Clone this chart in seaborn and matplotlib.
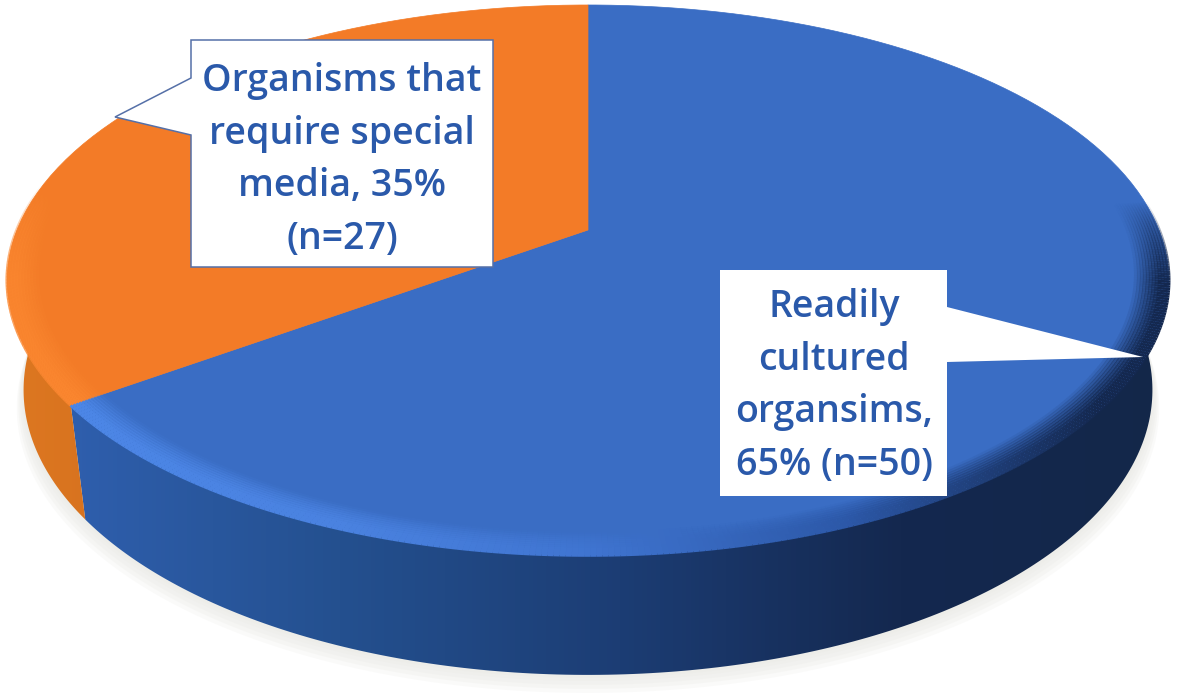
import matplotlib
matplotlib.use('Agg')
import matplotlib.pyplot as plt
from matplotlib.collections import LineCollection
from matplotlib.patches import Polygon
from matplotlib.transforms import Affine2D
import numpy as np
import seaborn as sns

# Data
categories = ['Readily cultured organisms', 'Organisms that require special media']
shares = [65, 35]
counts = [50, 27]
label_lines = ['Readily\ncultured\norgansims,\n65% (n=50)',
               'Organisms that\nrequire special\nmedia, 35%\n(n=27)']

# Colours
top_colors = ['#3a6dc4', '#f37b27']
side_maps = [sns.blend_palette(['#2f5fae', '#24508f', '#1c3d74', '#14284f', '#132749'], as_cmap=True),
             sns.blend_palette(['#de7821', '#d8731f'], as_cmap=True)]
bevel_maps = [sns.blend_palette(['#4c86e6', '#4a82e0', '#3f74d0', '#2c58a8', '#14284f'], as_cmap=True),
              sns.blend_palette(['#fb8730', '#fb8730'], as_cmap=True)]
text_color = '#2a59aa'


# The pie is drawn on a unit circle and then tilted into picture pixels
def tilt(x, y):
    w = 1 + 0.1818 * y
    return 588 + 571 * x / w, (230 - 224.1 * y) / w


def lower(px, py):
    return 588 + (px - 588) * 0.972, 390 + (py - 280) * 1.036


sns.set_theme(style='white')
plt.rcParams['font.family'] = ['Open Sans', 'DejaVu Sans']

fig = plt.figure(figsize=(11.81, 6.99), dpi=100)
ax = fig.add_axes([0, 0, 1, 1])
wedges, _ = ax.pie(shares, startangle=90, counterclock=False, colors=top_colors, radius=1)

faces = []
arcs = []
for wedge in wedges:
    poly = wedge.get_path().to_polygons(transform=Affine2D().scale(1000))[0] / 1000
    faces.append(np.column_stack(tilt(poly[:, 0], poly[:, 1])))
    arcs.append((wedge.theta1, wedge.theta2))
    wedge.remove()

ax.set_aspect('auto')

# Soft shadow below the disc
t = np.deg2rad(np.linspace(0, 360, 361))
bx, by = lower(*tilt(np.cos(t), np.sin(t)))
for grow, alpha in zip([18, 14, 10, 6, 3], [0.25, 0.3, 0.35, 0.4, 0.5]):
    ax.add_patch(Polygon(np.column_stack([588 + (bx - 588) * (1 + grow / 1500), by + grow]),
                         closed=True, fc='#ecece8', ec='none', alpha=alpha, zorder=1))

# Side walls
wall_range = [(arcs[0][0], 0), (-180, arcs[1][1])]
wall_extent = [(60, 1181, 699, 0), (0, 90, 699, 0)]
for i, (low, high) in enumerate(wall_range):
    t = np.deg2rad(np.linspace(low, high, 200))
    tx, ty = tilt(np.cos(t), np.sin(t))
    lx, ly = lower(tx, ty)
    wall = Polygon(np.column_stack([np.r_[tx, lx[::-1]], np.r_[ty, ly[::-1]]]), closed=True,
                   fc='none', ec='none', zorder=2)
    ax.add_patch(wall)
    im = ax.imshow(np.linspace(0, 1, 256)[None, :], extent=wall_extent[i], cmap=side_maps[i],
                   aspect='auto', zorder=2)
    im.set_clip_path(wall)

# Top faces
for i, face in enumerate(faces):
    ax.add_patch(Polygon(face, closed=True, fc=top_colors[i], ec=top_colors[i], lw=0.5, zorder=3))

# Bevel along the front edge, built from thin strips that get stronger towards the rim
bevel_range = [(arcs[0][0], 6), (-190, arcs[1][1])]
for i, (low, high) in enumerate(bevel_range):
    t = np.deg2rad(np.linspace(low, high, 300))
    for r, alpha in zip(np.linspace(0.945, 1.0, 12), np.r_[np.linspace(0.1, 1, 9), 1, 1, 1]):
        sx, sy = tilt(r * np.cos(t), r * np.sin(t))
        pts = np.column_stack([sx, sy]).reshape(-1, 1, 2)
        segs = np.concatenate([pts[:-1], pts[1:]], axis=1)
        if i == 0:
            fade = np.clip((t[-1] - t[:-1]) / 0.3, 0, 1)
        else:
            fade = np.clip((t[:-1] - t[0]) / 0.35, 0, 1)
        rgba = bevel_maps[i](np.clip((sx[:-1] - 80) / 1020, 0, 1))
        rgba[:, 3] = alpha * fade
        ax.add_collection(LineCollection(segs, colors=rgba, linewidths=2.6, zorder=4, capstyle='butt'))

# Callouts
ax.add_patch(Polygon([(191, 40), (493, 40), (493, 267), (191, 267), (191, 135), (115, 117), (191, 78)],
                     closed=True, fc='white', ec='#5570a8', lw=1.1, zorder=5))
ax.add_patch(Polygon([(720, 270), (947, 270), (947, 307), (1143, 357), (947, 362), (947, 496), (720, 496)],
                     closed=True, fc='white', ec='none', zorder=5))

for label, x, y in zip(label_lines, [834, 342], [386, 160]):
    ax.text(x, y, label, ha='center', va='center', color=text_color, fontsize=27, fontweight='semibold',
            linespacing=1.5, zorder=6)

ax.set_xlim(0, 1181)
ax.set_ylim(699, 0)
ax.axis('off')

fig.savefig('out.png', dpi=100)
